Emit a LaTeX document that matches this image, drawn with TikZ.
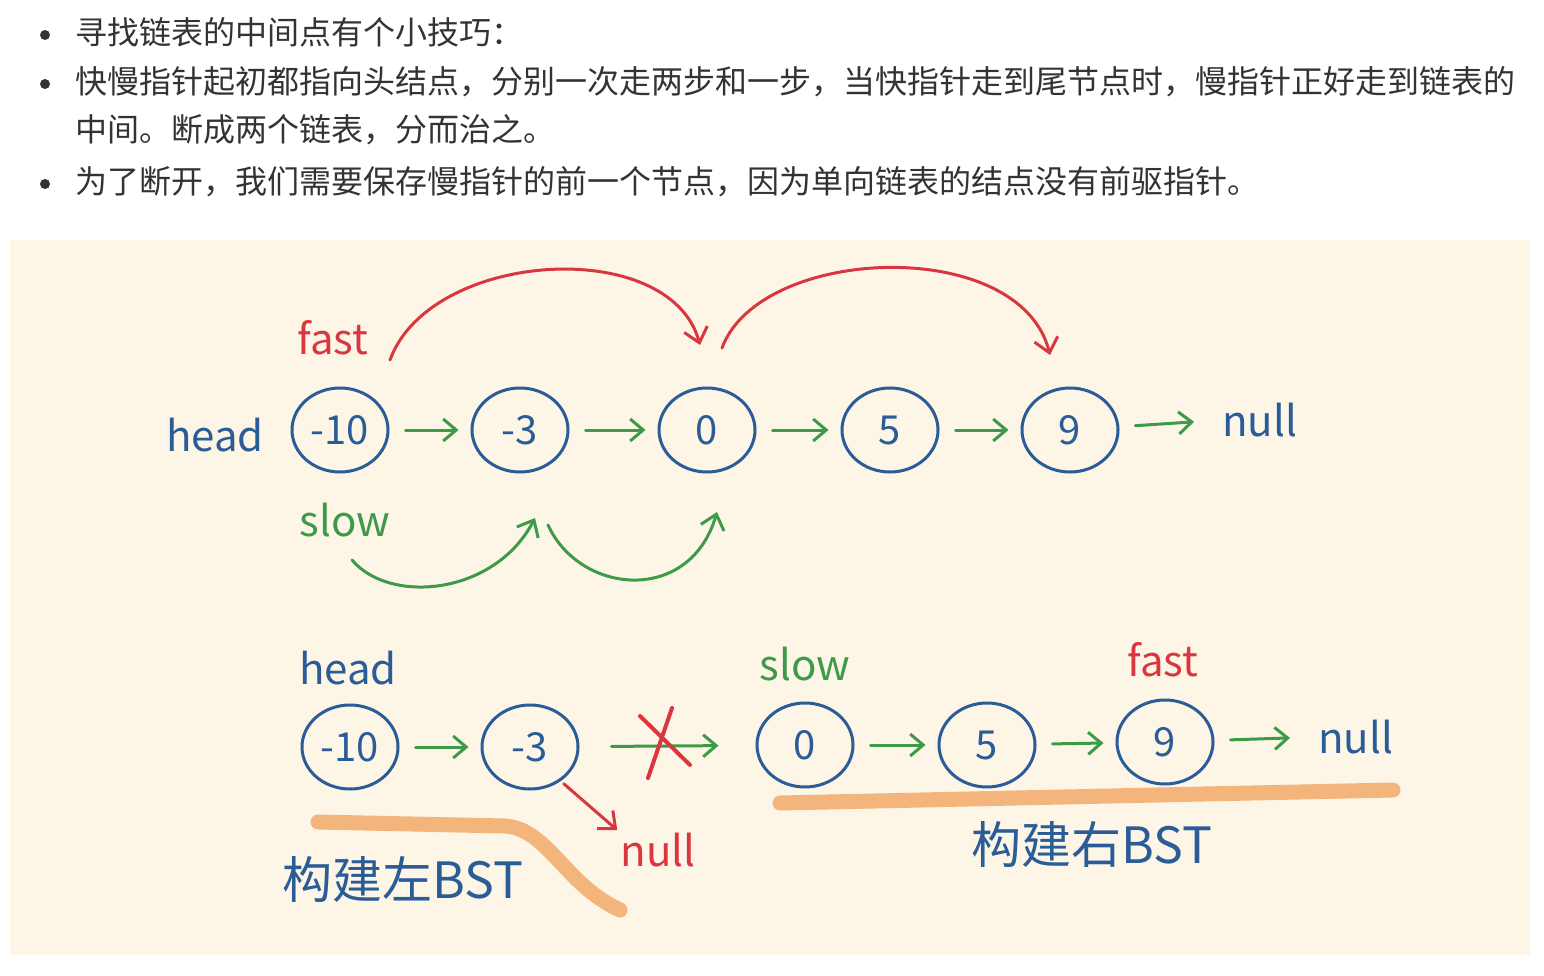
\documentclass[tikz,border=0pt]{standalone}
\usepackage{fontspec}
\setmainfont{Noto Sans CJK SC}
\usetikzlibrary{arrows.meta, positioning, shapes.geometric}

\definecolor{paper}{HTML}{FDF6E7}
\definecolor{inkblue}{HTML}{2A5C97}
\definecolor{inkgreen}{HTML}{3C9A48}
\definecolor{inkred}{HTML}{DA3640}
\definecolor{inkorange}{HTML}{F3B57C}
\definecolor{bodytext}{HTML}{333333}

\tikzset{
  listnode/.style={ellipse, draw=inkblue, line width=3pt, minimum width=96pt,
    minimum height=84pt, inner sep=0pt, text=inkblue, font=\fontsize{40}{40}\selectfont},
  hand/.style={inner sep=0pt, font=\fontsize{42}{42}\selectfont},
  bullettext/.style={anchor=west, inner sep=0pt, text=bodytext, font=\fontsize{32}{32}\selectfont},
  nextptr/.style={draw=inkgreen, line width=3pt, line cap=round,
    -{Straight Barb[length=13pt,width=22pt,line width=3pt]}, shorten <=16pt, shorten >=12pt},
  fastjump/.style={draw=inkred, line width=3pt, line cap=round,
    -{Straight Barb[length=14pt,width=24pt,line width=3pt]}},
  slowjump/.style={draw=inkgreen, line width=3pt, line cap=round,
    -{Straight Barb[length=14pt,width=24pt,line width=3pt]}},
  bstbar/.style={draw=inkorange, line width=15pt, line cap=round}
}

\begin{document}
\begin{tikzpicture}[x=1pt, y=-1pt]
\useasboundingbox[fill=white] (0,0) rectangle (1544,976);
\fill[paper] (10,240) rectangle (1530,955);

% bullet list
\foreach \yy in {35,84,184} \fill[bodytext] (45,\yy) circle (5);
\node[bullettext] (line1) at (75,32) {寻找链表的中间点有个小技巧：};
\node[bullettext] (line2) at (75,82) {快慢指针起初都指向头结点，分别一次走两步和一步，当快指针走到尾节点时，慢指针正好走到链表的};
\node[bullettext] (line3) at (75,130) {中间。断成两个链表，分而治之。};
\node[bullettext] (line4) at (75,182) {为了断开，我们需要保存慢指针的前一个节点，因为单向链表的结点没有前驱指针。};

% first row
\node[hand, text=inkblue] (head1) at (215,435) {head};
\node[listnode] (a1) at (340,430) {-10};
\node[listnode] (b1) at (520,430) {-3};
\node[listnode] (c1) at (707,430) {0};
\node[listnode] (d1) at (890,430) {5};
\node[listnode] (e1) at (1070,430) {9};
\node[hand, text=inkblue, anchor=west] (null1) at (1222,420) {null};
\draw[nextptr] (a1) -- (b1);
\draw[nextptr] (b1) -- (c1);
\draw[nextptr] (c1) -- (d1);
\draw[nextptr] (d1) -- (e1);
\draw[nextptr, shorten >=28pt] (e1) -- (null1.west);

\node[hand, text=inkred] (fast1) at (333,338) {fast};
\node[hand, text=inkgreen] (slow1) at (345,520) {slow};
\coordinate (f0) at (390,360);
\coordinate (f1) at (700,345);
\coordinate (f2) at (722,348);
\coordinate (f3) at (1050,355);
\draw[fastjump] (f0) .. controls (430,250) and (670,235) .. (f1);
\draw[fastjump] (f2) .. controls (760,245) and (1020,235) .. (f3);
\coordinate (s0) at (352,560);
\coordinate (s1) at (535,518);
\coordinate (s2) at (548,525);
\coordinate (s3) at (717,512);
\draw[slowjump] (s0) .. controls (390,605) and (495,595) .. (s1);
\draw[slowjump] (s2) .. controls (580,595) and (690,605) .. (s3);

% second row
\node[hand, text=inkblue] (head2) at (348,668) {head};
\node[hand, text=inkgreen] (slow2) at (805,664) {slow};
\node[hand, text=inkred] (fast2) at (1163,660) {fast};
\node[listnode] (a2) at (350,747) {-10};
\node[listnode] (b2) at (530,747) {-3};
\node[listnode] (c2) at (805,745) {0};
\node[listnode] (d2) at (987,745) {5};
\node[listnode] (e2) at (1165,742) {9};
\node[hand, text=inkblue, anchor=west] (null2) at (1318,737) {null};
\node[hand, text=inkred] (nullcut) at (658,850) {null};
\draw[nextptr] (a2) -- (b2);
\draw[nextptr, shorten <=32pt, shorten >=37pt] (b2) -- (c2);
\draw[nextptr] (c2) -- (d2);
\draw[nextptr] (d2) -- (e2);
\draw[nextptr, shorten >=28pt] (e2) -- (null2.west);
\draw[inkred, line width=4pt, line cap=round] (640,716) -- (690,765) (672,708) -- (648,778);
\draw[fastjump, shorten <=4pt, shorten >=4pt] (b2.-48) -- (nullcut.north west);

% halves
\draw[bstbar] (318,822) -- (505,826) .. controls (548,829) and (565,885) .. (620,910);
\draw[bstbar] (780,803) -- (1393,790);
\node[inner sep=0pt, text=inkblue, font=\fontsize{50}{50}\selectfont] (leftbst) at (403,880) {构建左BST};
\node[inner sep=0pt, text=inkblue, font=\fontsize{50}{50}\selectfont] (rightbst) at (1092,845) {构建右BST};
\end{tikzpicture}
\end{document}
